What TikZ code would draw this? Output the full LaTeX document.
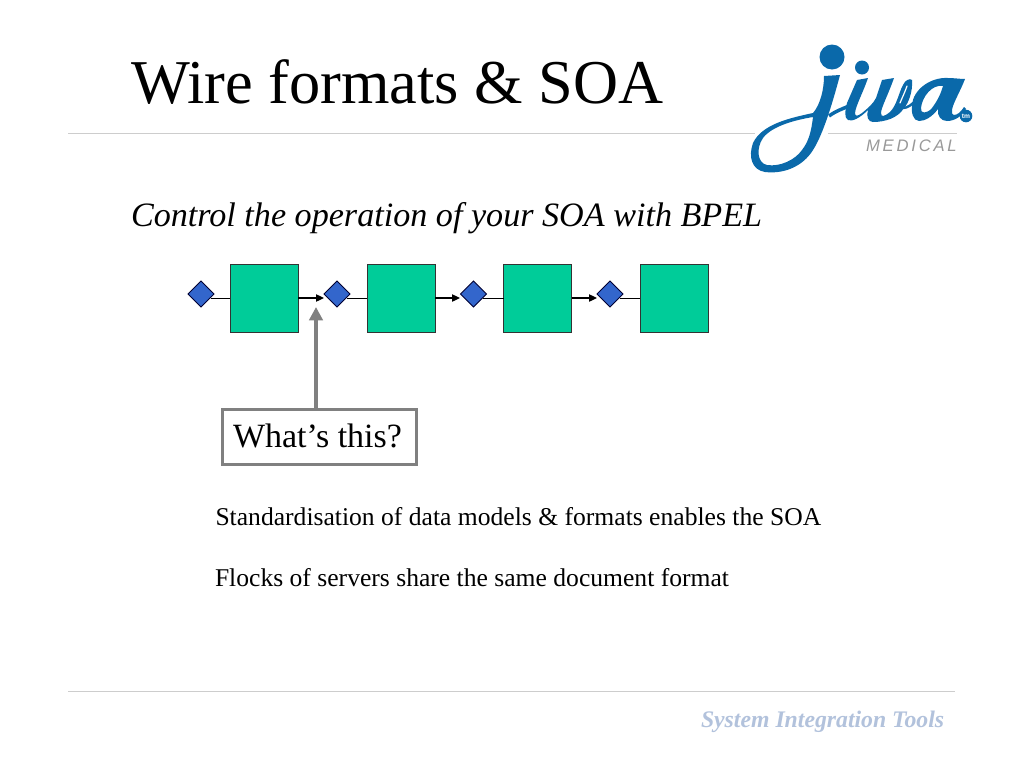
\documentclass[tikz,border=0pt]{standalone}
\usepackage{fontspec}
\setmainfont{Liberation Serif}
\newfontfamily\lsans{Liberation Sans}
\definecolor{teal1}{RGB}{0,204,153}
\definecolor{dia}{RGB}{51,102,204}
\definecolor{arrowgray}{RGB}{128,128,128}
\definecolor{rulegray}{RGB}{205,205,205}
\definecolor{jiva}{RGB}{10,105,170}
\definecolor{sit}{RGB}{178,194,220}
\usetikzlibrary{shapes.geometric,arrows.meta}
\tikzset{
 sq/.style={draw=black!80,fill=teal1,line width=0.7pt,minimum size=51pt,inner sep=0pt,outer sep=0pt},
 dm/.style={diamond,draw=black!80!blue,fill=dia,line width=0.6pt,minimum size=19.5pt,inner sep=0pt,outer sep=0pt},
 thin1/.style={draw=black,line width=0.7pt},
 arr/.style={draw=black,line width=0.9pt,-{Triangle[length=6pt,width=5.5pt]}},
 txt/.style={anchor=base west,inner sep=0pt,outer sep=0pt},
 hair/.style={rulegray,line width=0.6pt},
}
\begin{document}
\begin{tikzpicture}[x=0.75pt,y=-0.75pt]
\useasboundingbox (0,0) rectangle (1024,768);
\fill[white] (0,0) rectangle (1024,768);
\coordinate (r1a) at (68,133); \coordinate (r1b) at (755,133);
\coordinate (r1c) at (828,133); \coordinate (r1d) at (957,133);
\coordinate (r2a) at (68,691); \coordinate (r2b) at (955,691);
\draw[hair] (r1a)--(r1b);
\draw[hair] (r1c)--(r1d);
\draw[hair] (r2a)--(r2b);
\node[txt,font=\fontsize{46.75}{47}\selectfont] (title) at (131,103) {Wire formats \& SOA};
\node[txt,font=\fontsize{25.6}{26}\selectfont\itshape] (sub) at (131,226) {Control the operation of your SOA with BPEL};
\node[sq] (s1) at (264,298) {};
\node[sq] (s2) at (401,298) {};
\node[sq] (s3) at (537.5,298) {};
\node[sq] (s4) at (674,298) {};
\node[dm] (d1) at (201,294) {};
\node[dm] (d2) at (337,294) {};
\node[dm] (d3) at (473.5,294) {};
\node[dm] (d4) at (610,294) {};
\coordinate (c1) at (210.5,298); \coordinate (c2) at (346.5,298);
\coordinate (c3) at (483,298); \coordinate (c4) at (619.5,298);
\coordinate (e1) at (324,298); \coordinate (e2) at (460,298); \coordinate (e3) at (597,298);
\draw[thin1] (c1)--(c1-|s1.west);
\draw[thin1] (c2)--(c2-|s2.west);
\draw[thin1] (c3)--(c3-|s3.west);
\draw[thin1] (c4)--(c4-|s4.west);
\draw[arr] (s1.east)--(e1);
\draw[arr] (s2.east)--(e2);
\draw[arr] (s3.east)--(e3);
\node[draw=arrowgray,line width=2.4pt,fill=white,minimum width=145pt,minimum height=41pt,inner sep=0pt] (q) at (319.5,437) {};
\node[txt,font=\fontsize{25.5}{26}\selectfont] (qt) at (233,447) {What’s this?};
\coordinate (tip) at (316,307);
\coordinate (tail) at (316,408);
\draw[arrowgray,line width=3pt,-{Triangle[length=10pt,width=10pt]}] (tail)--(tip);
\node[txt,font=\fontsize{19.2}{20}\selectfont] (l1) at (215.5,525) {Standardisation of data models \& formats enables the SOA};
\node[txt,font=\fontsize{19.2}{20}\selectfont] (l2) at (215,586.5) {Flocks of servers share the same document format};
% logo: swoosh j
\fill[jiva,even odd rule] (824,76) .. controls (824,90) and (820,105) .. (813,113)
  .. controls (790,118) and (762,124) .. (753,143)
  .. controls (748,157) and (752,170) .. (765,172)
  .. controls (782,174) and (800,168) .. (811,153)
  .. controls (822,138) and (832,105) .. (840,75) -- cycle
  (813,117) .. controls (795,120) and (772,126) .. (763,138)
  .. controls (756,148) and (757,163) .. (767,165)
  .. controls (780,167) and (795,160) .. (802,150)
  .. controls (808,142) and (811,134) .. (813,117) -- cycle;
% link j to i
\draw[jiva,line width=2.6pt] (829,116) .. controls (836,111) and (842,109) .. (849,106);
% i and v
\fill[jiva] (857,80) -- (868,78) .. controls (862,95) and (856,105) .. (855,113)
  .. controls (855,117) and (858,116) .. (862,113)
  .. controls (868,108) and (873,104) .. (876,98)
  -- (882,80) -- (894,78)
  .. controls (888,95) and (881,108) .. (881,113)
  .. controls (881,118) and (885,116) .. (890,112)
  .. controls (897,105) and (899,92) .. (903,85)
  .. controls (905,80) and (910,78) .. (912,80)
  .. controls (913,92) and (908,104) .. (904,108)
  .. controls (898,118) and (885,122) .. (873,122)
  .. controls (868,122) and (866,116) .. (868,110)
  .. controls (860,118) and (852,122) .. (848,120)
  .. controls (844,118) and (845,110) .. (847,103) -- cycle;
\draw[white,line width=0.9pt,line cap=round] (907,86) .. controls (905,92) and (902,98) .. (900,103);
\draw[jiva,line width=1.8pt] (903,108) .. controls (907,108) and (912,105) .. (917,99);
% a
\fill[jiva,even odd rule] (965,79) .. controls (960,92) and (953,103) .. (952,110)
  .. controls (951,116) and (955,116) .. (959,113)
  .. controls (961,111) and (963,109) .. (964,107)
  -- (966,109) .. controls (962,116) and (955,121) .. (947,121)
  .. controls (941,121) and (937,116) .. (938,109)
  .. controls (932,117) and (925,121) .. (919,121)
  .. controls (913,121) and (911,112) .. (912,105)
  .. controls (913,90) and (930,77) .. (948,78) .. controls (954,78) and (960,79) .. (965,79) -- cycle
  (943,86) .. controls (932,84) and (922,97) .. (921,108)
  .. controls (920,114) and (927,114) .. (932,108)
  .. controls (938,100) and (941,93) .. (943,86) -- cycle;
\fill[jiva] (966,116) circle (6.3);
\fill[jiva] (832,57) circle (12.5);
\fill[jiva] (862,67.5) circle (7);
\node[anchor=center,font=\lsans\bfseries\fontsize{5}{5}\selectfont,text=white] (tm) at (966,116) {tm};
\node[txt,font=\lsans\fontsize{12.5}{12.5}\selectfont\itshape,text=black!40] (med) at (866,151) {M\,E\,D\,I\,C\,A\,L};
\node[txt,font=\fontsize{17.8}{19}\selectfont\itshape\bfseries,text=sit] (sys) at (701,727) {System Integration Tools};
\end{tikzpicture}
\end{document}
